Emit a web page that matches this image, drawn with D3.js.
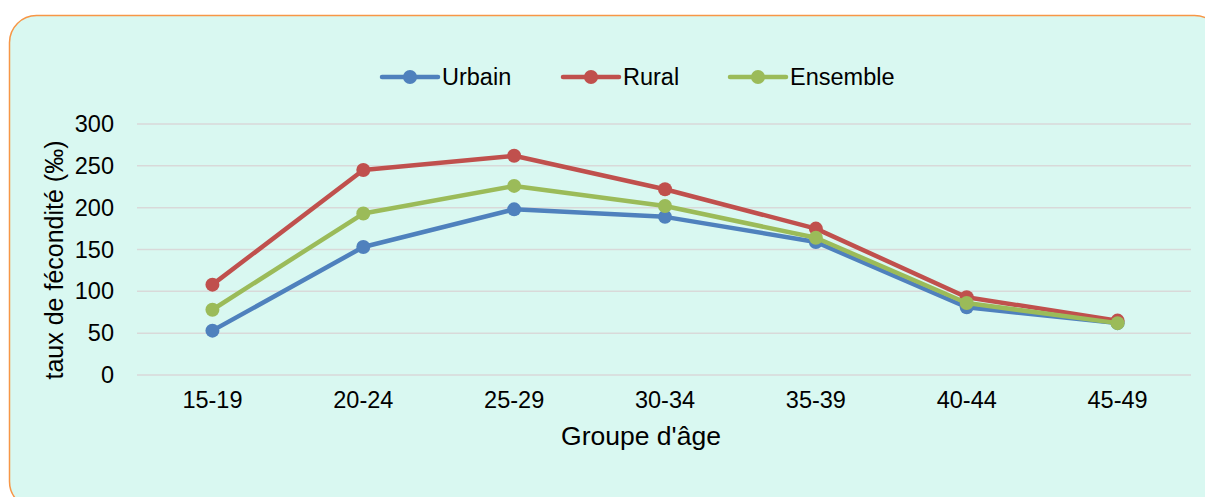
<!DOCTYPE html>
<html><head><meta charset="utf-8">
<script src="https://cdn.jsdelivr.net/npm/d3@7"></script>
<style>html,body{margin:0;padding:0;background:#fff;}svg{display:block;}</style>
</head><body>
<svg id="chart" width="1205" height="497"></svg>
<script>
const categories = ["15-19","20-24","25-29","30-34","35-39","40-44","45-49"];
const urbain   = [53, 153, 198, 189, 159, 81, 62];
const rural    = [108, 245, 262, 222, 175, 93, 65];
const ensemble = [78, 193, 226, 202, 164, 86, 62];
const seriesNames = ["Urbain","Rural","Ensemble"];
const yTicks = [0,50,100,150,200,250,300];

const colors = {Urbain:"#4f81bd", Rural:"#c0504d", Ensemble:"#9bbb59"};
const series = [
  {name:"Urbain", values:urbain},
  {name:"Rural", values:rural},
  {name:"Ensemble", values:ensemble}
];

const svg = d3.select("#chart");
const font = "'Liberation Sans', Arial, sans-serif";

svg.append("rect").attr("x",9.5).attr("y",15.5).attr("width",1212).attr("height",493)
  .attr("rx",27).attr("ry",27).attr("fill","#d9f8f1").attr("stroke","#f79646").attr("stroke-width",1.5);

const x = d3.scaleBand().domain(categories).range([137,1193]);
const y = d3.scaleLinear().domain([0,300]).range([375,124]);

const g = svg.append("g");
g.selectAll("line.grid").data(yTicks).enter().append("line")
  .attr("x1",137).attr("x2",1191).attr("y1",d=>y(d)).attr("y2",d=>y(d))
  .attr("stroke","#d9d9d9").attr("stroke-width",1.5);

const yAxis = d3.axisLeft(y).tickValues(yTicks).tickSize(0).tickPadding(0);
const ya = svg.append("g").attr("transform","translate(114,0)").call(yAxis);
ya.select(".domain").remove();
ya.selectAll("text").attr("font-family",font).attr("font-size",23.5).attr("fill","#000");

const xAxis = d3.axisBottom(x).tickSize(0).tickPadding(0);
const xa = svg.append("g").attr("transform","translate(0,391)").call(xAxis);
xa.select(".domain").remove();
xa.selectAll("text").attr("font-family",font).attr("font-size",23.5).attr("fill","#000").attr("dy","0.71em");

svg.append("text").attr("x",641).attr("y",445).attr("text-anchor","middle")
  .attr("font-family",font).attr("font-size",26.5).attr("fill","#000").text("Groupe d'âge");
svg.append("text").attr("transform","translate(63,260) rotate(-90)").attr("text-anchor","middle")
  .attr("font-family",font).attr("font-size",25).attr("fill","#000").text("taux de fécondité (‰)");

const line = d3.line().x((d,i)=>x(categories[i])+x.bandwidth()/2).y(d=>y(d));
series.forEach(s=>{
  const sg = svg.append("g");
  sg.append("path").attr("d",line(s.values)).attr("fill","none")
    .attr("stroke",colors[s.name]).attr("stroke-width",4.5).attr("stroke-linejoin","round").attr("stroke-linecap","round");
  sg.selectAll("circle").data(s.values).enter().append("circle")
    .attr("cx",(d,i)=>x(categories[i])+x.bandwidth()/2).attr("cy",d=>y(d)).attr("r",7)
    .attr("fill",colors[s.name]);
});

// legend
const legendX = [382, 563, 730];
const leg = svg.append("g");
seriesNames.forEach((n,i)=>{
  const lx = legendX[i];
  leg.append("line").attr("x1",lx).attr("x2",lx+56).attr("y1",77).attr("y2",77)
    .attr("stroke",colors[n]).attr("stroke-width",4.5).attr("stroke-linecap","round");
  leg.append("circle").attr("cx",lx+28).attr("cy",77).attr("r",7).attr("fill",colors[n]);
  leg.append("text").attr("x",lx+60).attr("y",77).attr("dy","0.35em")
    .attr("font-family",font).attr("font-size",23.5).attr("fill","#000").text(n);
});
</script>
</body></html>
